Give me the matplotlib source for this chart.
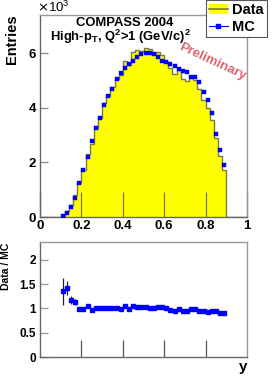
import numpy as np
import matplotlib
matplotlib.use("Agg")
import matplotlib.pyplot as plt
from matplotlib.lines import Line2D
from matplotlib.patches import Patch

plt.rcParams['font.family'] = ['Liberation Sans', 'DejaVu Sans']

# bin edges in y (0.10 .. 0.90, width 0.02)
y_lo, y_hi, n_bins = 0.10, 0.90, 40

# MC and Data entries (in units of 10^3)
mc = [0.04, 0.15, 0.37, 0.71, 1.26, 1.73, 2.18, 2.77, 3.25, 3.64,
      4.10, 4.42, 4.68, 5.06, 5.26, 5.47, 5.62, 5.71, 5.87, 5.96,
      6.02, 6.02, 5.97, 5.87, 5.71, 5.69, 5.62, 5.53, 5.43, 5.34,
      5.30, 5.14, 5.12, 4.95, 4.57, 4.30, 3.80, 3.03, 2.45, 1.89]
data = [0.054, 0.213, 0.437, 0.809, 1.247, 1.713, 2.311, 2.687, 3.25, 3.64,
        4.18, 4.42, 4.77, 5.06, 5.21, 5.73, 5.56, 6.05, 6.10, 6.08,
        6.20, 6.14, 5.97, 6.05, 5.94, 5.69, 5.45, 5.25, 5.38, 5.07,
        4.98, 5.09, 5.02, 4.70, 4.30, 4.00, 3.57, 2.88, 2.23, 1.72]

mc = np.array(mc)
data = np.array(data)
edges = np.linspace(y_lo, y_hi, n_bins + 1)
centers = 0.5 * (edges[:-1] + edges[1:])
ratio = data / mc
ratio_err = ratio * np.sqrt(1.0 / (data * 1000) + 1.0 / (mc * 1000))

# full-range histogram (empty bins outside 0.1-0.9)
full_edges = np.round(np.arange(0, 1.0001, 0.02), 4)
full_data = np.zeros(len(full_edges) - 1)
idx0 = int(round(y_lo / 0.02))
full_data[idx0:idx0 + n_bins] = data

W, H = 274, 376
fig = plt.figure(figsize=(W / 100, H / 100), dpi=100)
ax1 = fig.add_axes([40 / W, 1 - 217 / H, 207 / W, 202 / H])
ax2 = fig.add_axes([40 / W, 1 - 357 / H, 207 / W, 115 / H])

yellow = '#ffff00'
edge = '#7a7a45'
blue = '#0000ff'
frame = '#666666'

ax1.stairs(full_data, full_edges, fill=True, color=yellow, zorder=1)
ax1.stairs(full_data, full_edges, color=edge, lw=1.0, zorder=2)
ax1.plot(centers, mc, 's', color=blue, ms=3.3, mec=blue, mew=0.3, zorder=3)

ax1.set_xlim(0, 1)
ax1.set_ylim(0, 7.4)
ax1.set_xticks([0, 0.2, 0.4, 0.6, 0.8, 1.0])
ax1.set_xticklabels(['0', '0.2', '0.4', '0.6', '0.8', '1'])
ax1.set_yticks([0, 2, 4, 6])
ax1.set_yticklabels(['0', '2', '4', '6'])
ax1.tick_params(axis='x', direction='in', length=18, width=0.9, color=edge,
                labelsize=9.5, pad=2)
ax1.tick_params(axis='y', direction='in', length=6, width=0.9, color='#888888',
                labelsize=9.5, pad=3)
for lab in ax1.get_xticklabels() + ax1.get_yticklabels():
    lab.set_fontweight('bold')
for s in ax1.spines.values():
    s.set_color(frame)
    s.set_linewidth(1.0)
ax1.spines['top'].set_color('#999999')
ax1.spines['right'].set_color('#999999')

fig.text(12 / W, 1 - 14 / H, 'Entries', rotation=90, ha='center', va='top',
         fontsize=10.5, fontweight='bold')
fig.text(37 / W, 1 - 12.5 / H, r'$\times\mathregular{10^{3}}$', ha='left',
         va='baseline', fontsize=9.5)

fig.text(125 / W, 1 - 26 / H, 'COMPASS 2004', ha='center',
         va='baseline', fontsize=9.4, fontweight='bold')
fig.text(120 / W, 1 - 41 / H,
         r'High-p$_\mathregular{T}$, Q$^\mathregular{2}$>1 (GeV/c)$^\mathregular{2}$',
         ha='center', va='baseline', fontsize=9.4, fontweight='bold')
fig.text(212 / W, 1 - 62 / H, 'Preliminary',
         rotation=-25, ha='center', va='center', fontsize=9.5, fontweight='bold',
         color='#d9525e', alpha=0.9, rotation_mode='anchor')

handles = [(Patch(facecolor=yellow, edgecolor='none'),
            Line2D([0], [0], color=edge, lw=1.2)),
           Line2D([0], [0], color=blue, marker='s', ms=3.3, lw=0.8)]
leg = fig.legend(handles, ['Data', 'MC'], loc='upper left',
                 bbox_to_anchor=(206 / W, 1 - 0 / H), frameon=True,
                 fancybox=False, edgecolor='#555555', framealpha=1,
                 prop={'weight': 'bold', 'size': 10.5}, handlelength=1.3,
                 handletextpad=0.3, borderpad=0.2, labelspacing=0.2,
                 borderaxespad=0)
leg.get_frame().set_linewidth(0.8)

# ratio panel
ax2.errorbar(centers, ratio, yerr=ratio_err, fmt='s', color=blue, ms=3.3,
             mec=blue, ecolor='#222222', elinewidth=0.9, capsize=0)
ax2.set_xlim(0, 1)
ax2.set_ylim(0, 2.37)
ax2.set_xticks([0.2, 0.4, 0.6, 0.8])
ax2.set_xticklabels([])
ax2.set_yticks([0, 0.5, 1, 1.5, 2])
ax2.set_yticklabels(['0', '0.5', '1', '1.5', '2'])
ax2.tick_params(axis='x', direction='in', length=12, width=0.9, color='#555555')
ax2.tick_params(axis='y', direction='in', length=6, width=0.9, color='#999999',
                labelsize=8.5, pad=3)
for lab in ax2.get_yticklabels():
    lab.set_fontweight('bold')
for s in ax2.spines.values():
    s.set_color(frame)
    s.set_linewidth(1.0)
ax2.spines['top'].set_color('#999999')
ax2.spines['right'].set_color('#999999')

fig.text(6 / W, 1 - 243 / H, 'Data / MC', rotation=90, ha='center', va='top',
         fontsize=7.5, fontweight='bold')
fig.text(243 / W, 1 - 367 / H, 'y', ha='center', va='center', fontsize=11,
         fontweight='bold')

fig.savefig('out.png', dpi=100)
